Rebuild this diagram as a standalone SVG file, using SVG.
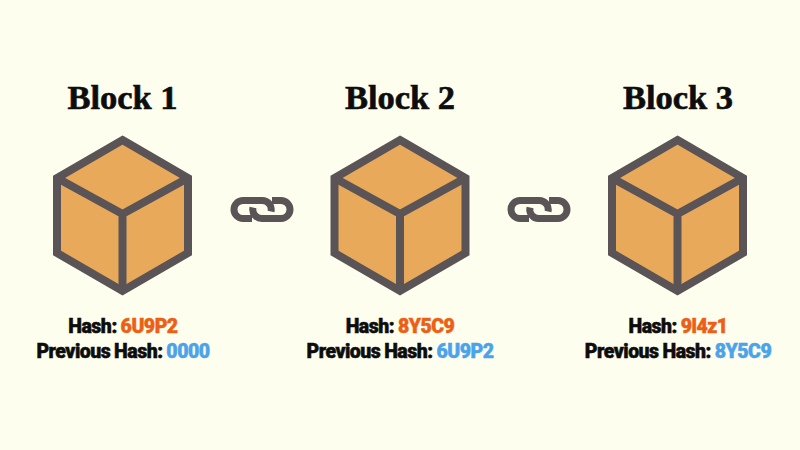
<svg xmlns="http://www.w3.org/2000/svg" width="800" height="450" viewBox="0 0 800 450">
<style>
.title{font-family:"Liberation Serif",serif;font-weight:700;font-size:34.500px;fill:#0d0d0d;text-anchor:middle;stroke:#0d0d0d;stroke-width:.6}
.info{font-family:"Roboto",sans-serif;font-weight:900;font-size:19.500px;letter-spacing:-.5px;word-spacing:-.5px;fill:#0d0d0d;text-anchor:middle;stroke:#0d0d0d;stroke-width:.5}
.h{fill:#ec5f14;stroke:#ec5f14}.p{fill:#4ba3ea;stroke:#4ba3ea}
.cube path{fill:none;stroke:#5a5456;stroke-width:8;stroke-linejoin:miter}
.cube path.f{fill:#e9a95b;stroke:none}
.lk{fill:none;stroke:#5a5456;stroke-width:7}
</style>
<defs>
<g id="cube" class="cube">
<path class="f" d="M0 -75 L65.500 -37 V38 L0 76 L-65.500 38 V-37Z"/>
<path d="M0 -75 L65.500 -37 V38 L0 76 L-65.500 38 V-37Z"/>
<path d="M-65.500 -37 L0 -1 L65.500 -37 M0 -1 V76"/>
</g>
<g id="link">
<path class="lk" d="M-10 9 H-19 A9 9 0 0 1 -19 -9 H0 A9 9 0 0 1 9 2"/>
<path class="lk" d="M10 -9 H19 A9 9 0 0 1 19 9 H0 A9 9 0 0 1 -9 -2"/>
</g>
</defs>
<rect width="800" height="450" fill="#fefeee"/>
<g id="connectors">
<use href="#link" x="262" y="209.500"/>
<use href="#link" x="539" y="209.500"/>
</g>
<g id="block1">
<text class="title" x="122.500" y="109">Block 1</text>
<use href="#cube" x="122.500" y="215"/>
<text class="info" x="123" y="333">Hash: <tspan class="h">6U9P2</tspan></text>
<text class="info" x="123" y="358">Previous Hash: <tspan class="p">0000</tspan></text>
</g>
<g id="block2">
<text class="title" x="400" y="109">Block 2</text>
<use href="#cube" x="400" y="215"/>
<text class="info" x="400" y="333">Hash: <tspan class="h">8Y5C9</tspan></text>
<text class="info" x="400" y="358">Previous Hash: <tspan class="p">6U9P2</tspan></text>
</g>
<g id="block3">
<text class="title" x="678" y="109">Block 3</text>
<use href="#cube" x="677.500" y="215"/>
<text class="info" x="678" y="333">Hash: <tspan class="h">9l4z1</tspan></text>
<text class="info" x="678" y="358">Previous Hash: <tspan class="p">8Y5C9</tspan></text>
</g>
</svg>
